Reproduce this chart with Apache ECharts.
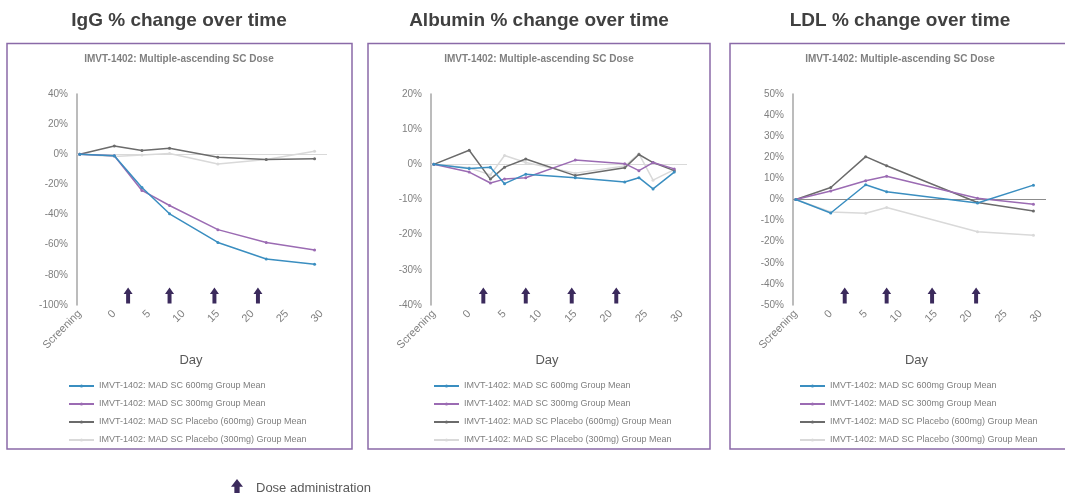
<!DOCTYPE html>
<html>
<head>
<meta charset="utf-8">
<script src="https://cdn.jsdelivr.net/npm/echarts@6/dist/echarts.min.js"></script>
<style>
html,body{margin:0;padding:0;background:#fff;}
#chart{width:1065px;height:493px;}
</style>
</head>
<body>
<div id="chart"></div>
<script>
// ---------- data ----------
const seriesNames = [
  'IMVT-1402: MAD SC 600mg Group Mean',
  'IMVT-1402: MAD SC 300mg Group Mean',
  'IMVT-1402: MAD SC Placebo (600mg) Group Mean',
  'IMVT-1402: MAD SC Placebo (300mg) Group Mean'
];
const xTickValues = [-5, 0, 5, 10, 15, 20, 25, 30];
const xTickLabels = ['Screening', '0', '5', '10', '15', '20', '25', '30'];

// IgG
const iggDays    = [-5, 0, 4, 8, 15, 22, 29];
const igg600     = [0, -1, -22, -39.5, -58.5, -69.5, -73];
const igg300     = [0, -1, -24, -34, -50, -58.5, -63.5];
const iggPbo600  = [0, 5.5, 2.5, 4, -2, -3.5, -3];
const iggPbo300  = [0, -1.5, -0.5, 0.5, -6.5, -3.5, 2];

// Albumin
const albDays    = [-5, 0, 3, 5, 8, 15, 22, 24, 26, 29];
const alb600     = [0, -1.2, -0.8, -5.5, -2.8, -3.8, -5, -3.8, -7, -2.2];
const alb300     = [0, -2.2, -5.3, -4.2, -3.8, 1.2, 0.2, -1.8, 0.5, -1.3];
const albPbo600  = [0, 4, -4.2, -0.8, 1.5, -3.2, -1, 2.8, 0.5, -1.8];
const albPbo300  = [0, -1, -3, 2.5, 0.5, -2.5, -0.5, 3, -4.5, -1.5];

// LDL
const ldlDays    = [-5, 0, 5, 8, 21, 29];
const ldl600     = [0, -6.4, 7, 3.7, -1.7, 6.8];
const ldl300     = [0, 4, 8.9, 11, 0.6, -2.2];
const ldlPbo600  = [0, 5.7, 20.3, 16, -1.4, -5.4];
const ldlPbo300  = [0, -5.9, -6.5, -3.8, -15.3, -16.9];

// Dose administration days (arrows)
const doseDays = [2, 8, 14.5, 20.8];

const panelTitles = ['IgG % change over time', 'Albumin % change over time', 'LDL % change over time'];
const subTitle = 'IMVT-1402: Multiple-ascending SC Dose';

// ---------- styling / layout ----------
const colors = ['#3a8ec0', '#9b6bb3', '#6b6b6b', '#d9d9d9'];
const FONT = '"Liberation Sans", Arial, sans-serif';
const arrowPath = 'path://M5,0 L10,6.5 L7.2,6.5 L7.2,16 L2.8,16 L2.8,6.5 L0,6.5 Z';

const panels = [
  { days: iggDays, sets: [igg600, igg300, iggPbo600, iggPbo300], yMin: -100, yMax: 40, yInt: 20,
    grid: { left: 77, top: 94, width: 250, height: 211 }, zeroColor: '#d9d9d9', namePad: [0, 22, 0, 0],
    legendLeft: 63, box: [7, 43.5, 345, 405.5], center: 179 },
  { days: albDays, sets: [alb600, alb300, albPbo600, albPbo300], yMin: -40, yMax: 20, yInt: 10,
    grid: { left: 431, top: 94, width: 256, height: 211 }, zeroColor: '#d9d9d9', namePad: [0, 24, 0, 0],
    legendLeft: 428, box: [368, 43.5, 342, 405.5], center: 539 },
  { days: ldlDays, sets: [ldl600, ldl300, ldlPbo600, ldlPbo300], yMin: -50, yMax: 50, yInt: 10,
    grid: { left: 793, top: 94, width: 253, height: 211 }, zeroColor: '#8c8c8c', namePad: [0, 6, 0, 0],
    legendLeft: 794, box: [730, 43.5, 345, 405.5], center: 900 }
];

const grids = [], xAxes = [], yAxes = [], series = [], legends = [], graphics = [];

panels.forEach((p, pi) => {
  grids.push(Object.assign({ containLabel: false }, p.grid));
  xAxes.push({
    type: 'value', gridIndex: pi, min: -5.4, max: 30.8,
    axisLine: { show: false, onZero: false }, axisTick: { show: false }, splitLine: { show: false },
    axisLabel: {
      customValues: xTickValues,
      formatter: v => { const i = xTickValues.indexOf(v); return i >= 0 ? xTickLabels[i] : ''; },
      rotate: 45, fontSize: 11, color: '#7f7f7f', margin: 7, fontFamily: FONT
    },
    name: 'Day', nameLocation: 'middle', nameGap: 40,
    nameTextStyle: { fontSize: 13, color: '#595959', fontFamily: FONT, padding: p.namePad }
  });
  yAxes.push({
    type: 'value', gridIndex: pi, min: p.yMin, max: p.yMax, interval: p.yInt,
    axisLine: { show: true, onZero: false, lineStyle: { color: '#a6a6a6', width: 1.5 } },
    axisTick: { show: false }, splitLine: { show: false },
    axisLabel: { formatter: '{value}%', fontSize: 10, color: '#7f7f7f', margin: 9, fontFamily: FONT }
  });
  // draw order: light gray first
  [3, 2, 1, 0].forEach(si => {
    const s = {
      type: 'line', name: seriesNames[si], xAxisIndex: pi, yAxisIndex: pi,
      data: p.days.map((d, k) => [d, p.sets[si][k]]),
      symbol: 'circle', symbolSize: 3, showSymbol: true,
      lineStyle: { color: colors[si], width: 1.5 },
      itemStyle: { color: colors[si] },
      emphasis: { disabled: true }, animation: false, z: 3 + (3 - si)
    };
    if (si === 3) {
      s.markLine = {
        silent: true, symbol: ['none', 'none'], label: { show: false },
        lineStyle: { color: p.zeroColor, width: 1.2, type: 'solid' },
        data: [{ yAxis: 0 }], z: 1
      };
    }
    series.push(s);
  });
  series.push({
    type: 'scatter', name: 'Dose administration', xAxisIndex: pi, yAxisIndex: pi,
    data: doseDays.map(d => [d, p.yMin]), clip: false,
    symbol: arrowPath, symbolSize: [9, 16], symbolOffset: [0, -9.5],
    itemStyle: { color: '#3b2a5c', opacity: 1 }, emphasis: { disabled: true }, animation: false
  });
  legends.push({
    data: seriesNames, orient: 'vertical', left: p.legendLeft, top: 376,
    itemWidth: 25, itemHeight: 4, itemGap: 8, selectedMode: false,
    textStyle: { fontSize: 9, color: '#7f7f7f', lineHeight: 10, fontFamily: FONT }
  });
  graphics.push({
    type: 'rect', shape: { x: p.box[0], y: p.box[1], width: p.box[2], height: p.box[3] },
    style: { fill: 'none', stroke: '#8a6aa8', lineWidth: 1.5 }, silent: true, z: -1
  });
  graphics.push({
    type: 'text', x: p.center, y: 21,
    style: { text: panelTitles[pi], textAlign: 'center', textVerticalAlign: 'middle',
      font: 'bold 19px ' + FONT, fill: '#404040' }
  });
  graphics.push({
    type: 'text', x: p.center, y: 59,
    style: { text: subTitle, textAlign: 'center', textVerticalAlign: 'middle',
      font: 'bold 10px ' + FONT, fill: '#808080' }
  });
});

legends.push({
  data: ['Dose administration'], left: 226, top: 474, icon: arrowPath,
  itemWidth: 12, itemHeight: 21, selectedMode: false,
  itemStyle: { color: '#3b2a5c', opacity: 1 },
  textStyle: { fontSize: 13, color: '#595959', fontFamily: FONT, padding: [0, 0, 0, 8] }
});

const chart = echarts.init(document.getElementById('chart'), null, { renderer: 'canvas' });
chart.setOption({
  animation: false,
  backgroundColor: '#ffffff',
  textStyle: { fontFamily: FONT },
  grid: grids, xAxis: xAxes, yAxis: yAxes, series: series, legend: legends, graphic: graphics
});
</script>
</body>
</html>
